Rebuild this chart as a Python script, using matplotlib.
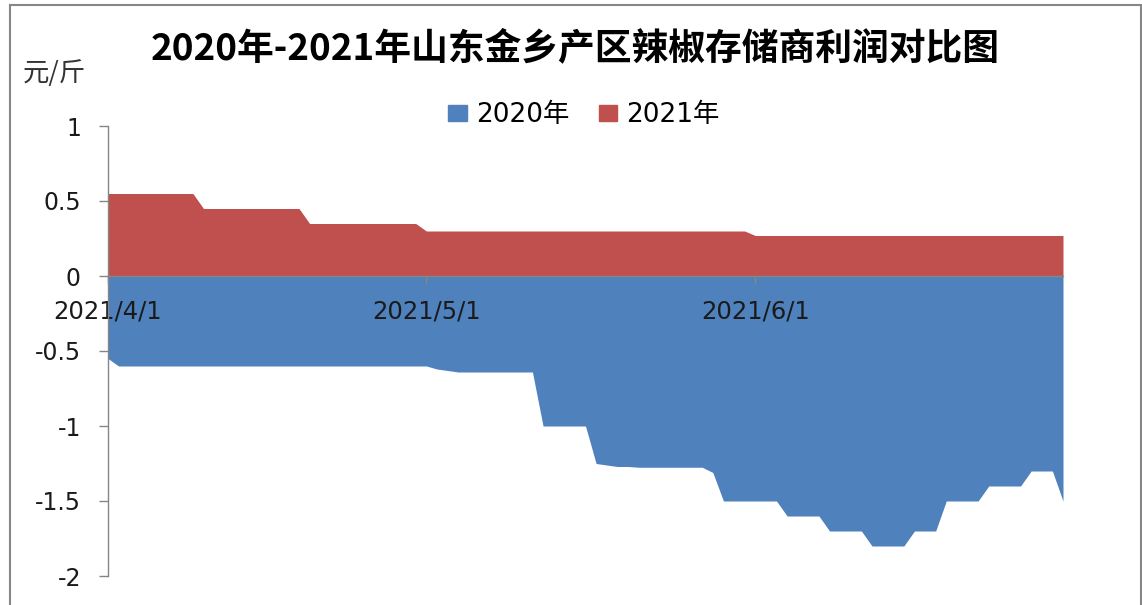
import pandas as pd
import matplotlib
matplotlib.use("Agg")
import matplotlib.pyplot as plt
import matplotlib.dates as mdates
import matplotlib.ticker as ticker
from matplotlib.patches import Rectangle, Patch

plt.rcParams['font.family'] = ['DejaVu Sans', 'Noto Sans CJK SC']
plt.rcParams['axes.unicode_minus'] = False

# daily values, 2021/4/1 .. 2021/6/30
dates = pd.date_range("2021-04-01", "2021-06-30", freq="D")

profit_2021 = [
    0.55, 0.55, 0.55, 0.55, 0.55, 0.55, 0.55, 0.55, 0.55,
    0.45, 0.45, 0.45, 0.45, 0.45, 0.45, 0.45, 0.45, 0.45, 0.45,
    0.35, 0.35, 0.35, 0.35, 0.35, 0.35, 0.35, 0.35, 0.35, 0.35, 0.35,
    0.30, 0.30, 0.30, 0.30, 0.30, 0.30, 0.30, 0.30, 0.30, 0.30,
    0.30, 0.30, 0.30, 0.30, 0.30, 0.30, 0.30, 0.30, 0.30, 0.30,
    0.30, 0.30, 0.30, 0.30, 0.30, 0.30, 0.30, 0.30, 0.30, 0.30, 0.30,
    0.27, 0.27, 0.27, 0.27, 0.27, 0.27, 0.27, 0.27, 0.27, 0.27,
    0.27, 0.27, 0.27, 0.27, 0.27, 0.27, 0.27, 0.27, 0.27, 0.27,
    0.27, 0.27, 0.27, 0.27, 0.27, 0.27, 0.27, 0.27, 0.27, 0.27,
]

profit_2020 = [
    -0.55,
    -0.60, -0.60, -0.60, -0.60, -0.60, -0.60, -0.60, -0.60, -0.60, -0.60,
    -0.60, -0.60, -0.60, -0.60, -0.60, -0.60, -0.60, -0.60, -0.60, -0.60,
    -0.60, -0.60, -0.60, -0.60, -0.60, -0.60, -0.60, -0.60, -0.60, -0.60,
    -0.62, -0.63,
    -0.64, -0.64, -0.64, -0.64, -0.64, -0.64, -0.64, -0.64,
    -1.00, -1.00, -1.00, -1.00, -1.00,
    -1.25, -1.26, -1.27, -1.27,
    -1.275, -1.275, -1.275, -1.275, -1.275, -1.275, -1.275,
    -1.31,
    -1.5, -1.5, -1.5, -1.5, -1.5, -1.5,
    -1.6, -1.6, -1.6, -1.6,
    -1.7, -1.7, -1.7, -1.7,
    -1.8, -1.8, -1.8, -1.8,
    -1.7, -1.7, -1.7,
    -1.5, -1.5, -1.5, -1.5,
    -1.4, -1.4, -1.4, -1.4,
    -1.3, -1.3, -1.3,
    -1.5,
]

date_ticks = pd.to_datetime(["2021-04-01", "2021-05-01", "2021-06-01"])
y_ticks = [1, 0.5, 0, -0.5, -1, -1.5, -2]

blue = "#4F81BD"
red = "#C0504D"
grey = "#868686"


def main():
    fig = plt.figure(figsize=(11.42, 6.05), dpi=100)
    ax = fig.add_axes([108 / 1142, 1 - 576 / 605, (1063 - 108) / 1142, (576 - 126) / 605])

    ax.fill_between(dates, profit_2020, 0, color=blue, linewidth=0, zorder=1)
    ax.fill_between(dates, profit_2021, 0, color=red, linewidth=0, zorder=1)

    ax.set_xlim(dates[0], dates[-1])
    ax.set_ylim(-2, 1)

    ax.spines["top"].set_visible(False)
    ax.spines["right"].set_visible(False)
    ax.spines["bottom"].set_position(("data", 0))
    for s in ("left", "bottom"):
        ax.spines[s].set_color(grey)
        ax.spines[s].set_linewidth(1.0)
        ax.spines[s].set_zorder(3)

    ax.set_yticks(y_ticks)
    ax.yaxis.set_major_formatter(ticker.FuncFormatter(lambda v, p: f"{v:g}"))
    ax.set_xticks(date_ticks)
    ax.xaxis.set_major_formatter(ticker.FuncFormatter(
        lambda v, p: "{0.year}/{0.month}/{0.day}".format(mdates.num2date(v))))

    ax.tick_params(axis="y", direction="out", length=6.5, width=1, color=grey,
                   pad=13, labelsize=17, labelcolor="#1a1a1a")
    ax.tick_params(axis="x", direction="out", length=6, width=1, color=grey,
                   pad=11, labelsize=17.5, labelcolor="#1a1a1a")
    for t in ax.get_xticklabels():
        t.set_zorder(5)

    fig.text(575 / 1142, 1 - 49 / 605, "2020年-2021年山东金乡产区辣椒存储商利润对比图",
             ha="center", va="center", fontsize=26.5, fontweight="bold",
             family=["Noto Sans CJK SC", "DejaVu Sans"])
    fig.text(23 / 1142, 1 - 74 / 605, "元/斤", ha="left", va="center",
             fontsize=19, color="#333333", family=["Noto Sans CJK SC", "DejaVu Sans"])

    handles = [Patch(color=blue, label="2020年"), Patch(color=red, label="2021年")]
    fig.legend(handles=handles, loc="center", ncol=2, frameon=False,
               bbox_to_anchor=(584 / 1142, 1 - 115 / 605), fontsize=19,
               handlelength=0.7, handleheight=0.55, handletextpad=0.35,
               columnspacing=1.1)

    fig.add_artist(Rectangle((9.5 / 1142, -0.05), (1140.5 - 9.5) / 1142, 1 - 5 / 605 + 0.05,
                             transform=fig.transFigure, fill=False,
                             edgecolor=grey, linewidth=1.5))

    fig.savefig("out.png", dpi=100)


if __name__ == "__main__":
    main()
